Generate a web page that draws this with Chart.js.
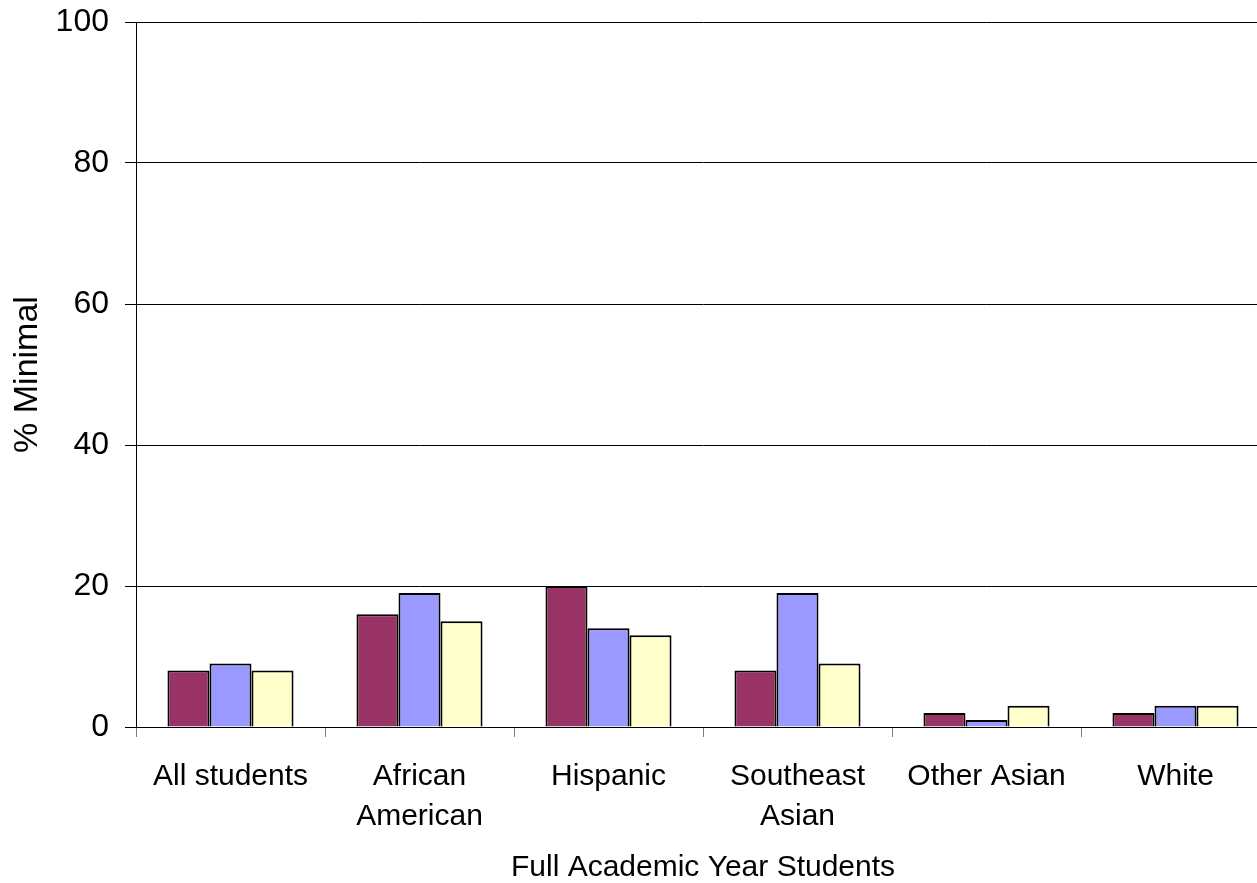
<!DOCTYPE html>
<html>
<head>
<meta charset="utf-8">
<title>% Minimal — Full Academic Year Students</title>
<script src="https://cdn.jsdelivr.net/npm/chart.js@4/dist/chart.umd.min.js"></script>
<style>
  html, body { margin: 0; padding: 0; background: #fff; overflow: hidden; }
  #wrap { width: 1275px; height: 883px; }
</style>
</head>
<body>
<div id="wrap"><canvas id="chart" width="1275" height="883"></canvas></div>
<script>
// Student groups along the x axis (multi-line labels as arrays)
const categories = [
  'All students',
  ['African', 'American'],
  'Hispanic',
  ['Southeast', 'Asian'],
  'Other Asian',
  'White'
];

// Three yearly series, % of students scoring Minimal
const seriesA = [8, 16, 20, 8, 2, 2];
const seriesB = [9, 19, 14, 19, 1, 3];
const seriesC = [8, 15, 13, 9, 3, 3];

const yTicks = [0, 20, 40, 60, 80, 100];

const FONT = '"Liberation Sans", Arial, Helvetica, sans-serif';

const bar = (data, color) => ({
  data,
  backgroundColor: color,
  borderColor: '#000',
  borderWidth: 2,
  borderSkipped: 'bottom',
  categoryPercentage: 0.667,
  barPercentage: 1.0
});

new Chart(document.getElementById('chart'), {
  type: 'bar',
  data: {
    labels: categories,
    datasets: [
      bar(seriesA, '#993366'),
      bar(seriesB, '#9999FF'),
      bar(seriesC, '#FFFFCC')
    ]
  },
  options: {
    responsive: false,
    animation: false,
    events: [],
    layout: { padding: { top: 22, right: 5, left: 0, bottom: 0 } },
    plugins: {
      legend: { display: false },
      tooltip: { enabled: false }
    },
    scales: {
      x: {
        grid: {
          display: true,
          offset: true,
          drawOnChartArea: false,
          drawTicks: true,
          tickLength: 10,
          color: '#808080',
          lineWidth: 1
        },
        border: { display: true, color: '#000', width: 1 },
        ticks: {
          color: '#000',
          font: { family: FONT, size: 30, lineHeight: 1.33 },
          padding: 20,
          maxRotation: 0,
          autoSkip: false
        },
        title: {
          display: true,
          text: 'Full Academic Year Students',
          color: '#000',
          font: { family: FONT, size: 30, lineHeight: 1.0 },
          padding: { top: 0, bottom: 0 }
        },
        afterFit: s => {
          s.height = 156;
          s.paddingLeft = 0;
          s.paddingRight = 0;
        }
      },
      y: {
        min: 0,
        max: 100,
        afterBuildTicks: s => { s.ticks = yTicks.map(v => ({ value: v })); },
        grid: {
          color: '#000',
          lineWidth: 1,
          drawTicks: true,
          tickLength: 11
        },
        border: { display: true, color: '#000', width: 1 },
        ticks: {
          color: '#000',
          font: { family: FONT, size: 32 },
          padding: 16
        },
        title: {
          display: true,
          text: '% Minimal',
          color: '#000',
          font: { family: FONT, size: 34, lineHeight: 1.0 },
          padding: { top: 11, bottom: 0 }
        },
        afterFit: s => {
          s.width = 136;
          s.paddingTop = 0;
          s.paddingBottom = 0;
        }
      }
    }
  }
});
</script>
</body>
</html>
